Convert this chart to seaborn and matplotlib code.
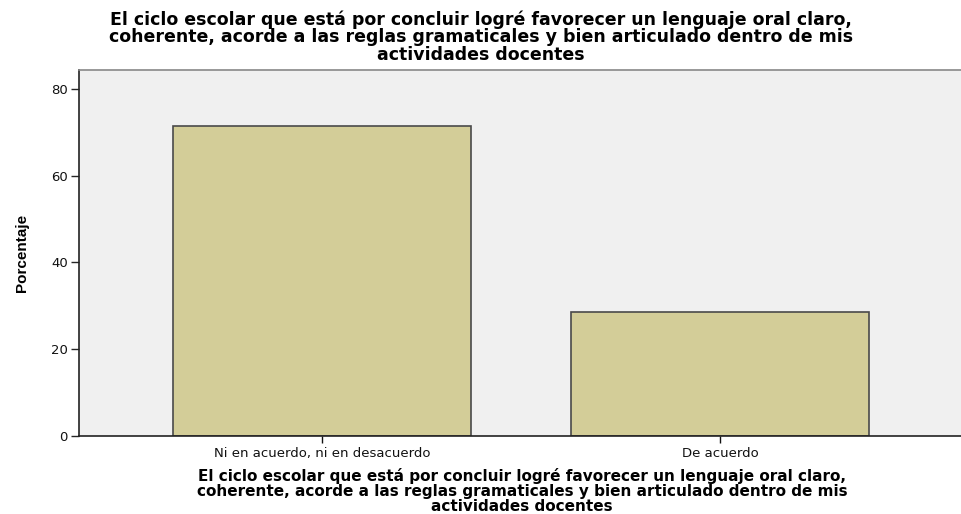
import matplotlib
matplotlib.use("Agg")
import matplotlib.pyplot as plt
import seaborn as sns
import pandas as pd

categorias = ["Ni en acuerdo, ni en desacuerdo", "De acuerdo"]
porcentajes = [71.43, 28.57]
y_ticks = [0, 20, 40, 60, 80]

titulo = ("El ciclo escolar que está por concluir logré favorecer un lenguaje oral claro,\n"
          "coherente, acorde a las reglas gramaticales y bien articulado dentro de mis\n"
          "actividades docentes")

sns.set_theme(style="white")
plt.rcParams["font.family"] = ["DejaVu Sans"]
plt.rcParams["text.color"] = "black"

df = pd.DataFrame({"categoria": categorias, "porcentaje": porcentajes})

fig = plt.figure(figsize=(9.62, 5.14), dpi=100)
ax = fig.add_axes([79 / 962, 1 - 436 / 514, (963 - 79) / 962, (436 - 70) / 514])
ax.set_facecolor("#F0F0F0")

sns.barplot(data=df, x="categoria", y="porcentaje", ax=ax, color="#D3CD98",
            saturation=1, width=0.75, edgecolor="#4a4a4a", linewidth=1.2)

ax.set_xlim(-0.61, 1.61)
ax.set_ylim(0, 84.3)
ax.set_yticks(y_ticks)
ax.set_yticklabels([str(t) for t in y_ticks], fontsize=9.5, color="#111111")
ax.tick_params(axis="x", labelsize=9.5, length=5, width=1, colors="#111111",
               direction="out", bottom=True, pad=3)
ax.tick_params(axis="y", length=6, width=1, direction="out", left=True, pad=2)

for side in ["left", "bottom"]:
    ax.spines[side].set_color("#222222")
    ax.spines[side].set_linewidth(1.2)
ax.spines["top"].set_color("#888888")
ax.spines["top"].set_linewidth(1.2)
ax.spines["right"].set_visible(False)

ax.set_ylabel("Porcentaje", fontsize=11, fontweight="bold", color="black",
              family=["Liberation Sans"])
ax.yaxis.set_label_coords(22 / 962, 1 - 253 / 514, transform=fig.transFigure)
ax.yaxis.label.set_va("center")

ax.set_xlabel(titulo, fontsize=11, fontweight="bold", linespacing=0.98, color="black")
ax.xaxis.set_label_coords(522 / 962, 1 - 491 / 514, transform=fig.transFigure)
ax.xaxis.label.set_va("center")

fig.text(0.5, 1 - 37 / 514, titulo, ha="center", va="center", fontsize=12.5,
         fontweight="bold", linespacing=0.98, color="black")

fig.savefig("out.png", dpi=100, facecolor="white")
